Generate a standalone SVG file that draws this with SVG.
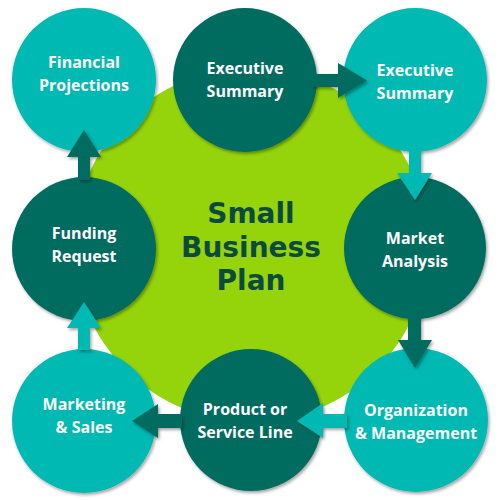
<svg xmlns="http://www.w3.org/2000/svg" width="500" height="500" viewBox="0 0 500 500">
<defs>
<filter id="sh" x="-20%" y="-20%" width="140%" height="140%">
<feDropShadow dx="1.5" dy="2" stdDeviation="1.5" flood-color="#000" flood-opacity="0.35"/>
</filter>
<style>
.dark{fill:#006c61}
.teal{fill:#00b9b2}
.node circle{filter:url(#sh)}
.lbl{font-family:"Open Sans","Noto Sans",sans-serif;font-weight:700;font-size:16px;fill:#ffffff;text-anchor:middle}
.title{font-family:"DejaVu Sans","Open Sans",sans-serif;font-weight:700;font-size:28px;fill:#0c4a40;text-anchor:middle}
.arr{filter:url(#sh)}
</style>
</defs>
<rect width="500" height="500" fill="#ffffff"/>
<g id="center">
<circle cx="251" cy="245" r="177" fill="#95d40a"/>
<text class="title" x="251" y="223">Small</text>
<text class="title" x="251" y="256.5">Business</text>
<text class="title" x="251" y="290">Plan</text>
</g>
<g id="financial" class="node">
<circle class="teal" cx="84" cy="80" r="72"/>
<text class="lbl" x="84" y="68">Financial</text>
<text class="lbl" x="84" y="91">Projections</text>
</g>
<g id="exec1" class="node">
<circle class="dark" cx="245" cy="80" r="72"/>
<text class="lbl" x="245" y="74">Executive</text>
<text class="lbl" x="245" y="97">Summary</text>
</g>
<g id="exec2" class="node">
<circle class="teal" cx="415" cy="80" r="72"/>
<text class="lbl" x="415" y="76">Executive</text>
<text class="lbl" x="415" y="99">Summary</text>
</g>
<g id="market" class="node">
<circle class="dark" cx="415" cy="248" r="71"/>
<text class="lbl" x="415" y="244">Market</text>
<text class="lbl" x="415" y="267">Analysis</text>
</g>
<g id="org" class="node">
<circle class="teal" cx="416" cy="420" r="72"/>
<text class="lbl" x="416" y="416">Organization</text>
<text class="lbl" x="416" y="439">&amp; Management</text>
</g>
<g id="product" class="node">
<circle class="dark" cx="251" cy="420" r="71"/>
<text class="lbl" x="245" y="415">Product or</text>
<text class="lbl" x="245" y="438">Service Line</text>
</g>
<g id="marketing" class="node">
<circle class="teal" cx="84" cy="421" r="72"/>
<text class="lbl" x="84" y="410">Marketing</text>
<text class="lbl" x="84" y="433">&amp; Sales</text>
</g>
<g id="funding" class="node">
<circle class="dark" cx="84" cy="249" r="72"/>
<text class="lbl" x="84" y="239">Funding</text>
<text class="lbl" x="84" y="262">Request</text>
</g>
<g id="connectors">
<polygon class="dark arr" points="78,180 78,157 67,157 84,130 101,157 90,157 90,180"/>
<polygon class="teal arr" points="78,350 78,328 67,328 84,302 101,328 90,328 90,350"/>
<polygon class="dark arr" points="312,74 338,74 338,63 367,80.5 338,98 338,87 312,87"/>
<polygon class="teal arr" points="409,150 409,173 397,173 415,200 432,173 421,173 421,150"/>
<polygon class="dark arr" points="408,316 408,340 398,340 415,368 432,340 421,340 421,316"/>
<polygon class="teal arr" points="347,414 323,414 323,403 297,421 323,438 323,428 347,428"/>
<polygon class="dark arr" points="182,414 158,414 158,404 132,421 158,438 158,428 182,428"/>
</g>
</svg>
